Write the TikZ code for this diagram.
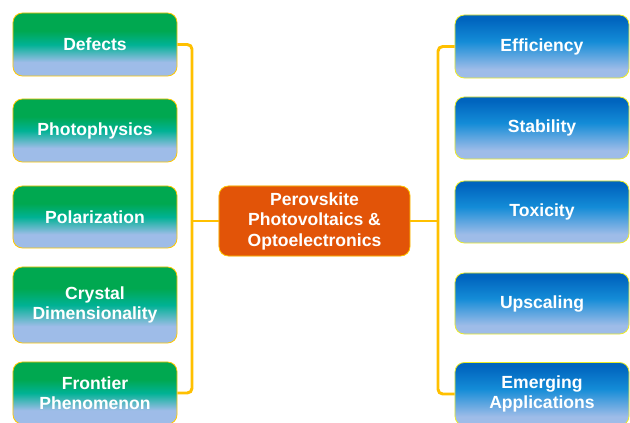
\documentclass[tikz,border=0pt]{standalone}
\usepackage{fontspec}
\setmainfont{Liberation Sans}
\definecolor{boxgreen}{RGB}{0,168,80}
\definecolor{boxteal}{RGB}{0,178,148}
\definecolor{boxblue}{RGB}{0,100,190}
\definecolor{boxmid}{RGB}{20,140,215}
\definecolor{boxlight}{RGB}{158,188,232}
\definecolor{boxedge}{RGB}{255,200,0}
\definecolor{rightedge}{RGB}{235,235,40}
\definecolor{hubfill}{RGB}{226,84,8}
\definecolor{linkgold}{RGB}{255,192,0}
\pgfdeclareverticalshading{leftshade}{100bp}{color(0bp)=(boxlight); color(36bp)=(boxlight); color(50bp)=(boxteal); color(61bp)=(boxgreen); color(100bp)=(boxgreen)}
\pgfdeclareverticalshading{rightshade}{100bp}{color(0bp)=(boxlight); color(32bp)=(boxlight); color(54bp)=(boxmid); color(72bp)=(boxblue); color(100bp)=(boxblue)}
\tikzset{
  topic/.style={rounded corners=8pt, line width=0.7pt, shade, text=white,
    font=\bfseries\fontsize{15}{17.5}\selectfont, align=center, inner sep=2pt},
  leftbox/.style={topic, draw=boxedge, shading=leftshade, minimum width=4.92cm},
  rightbox/.style={topic, draw=rightedge, shading=rightshade, minimum width=5.22cm},
  hub/.style={topic, draw=boxedge, fill=hubfill, shading=axis, top color=hubfill, bottom color=hubfill,
    minimum width=5.73cm, minimum height=2.1cm},
  link/.style={linkgold, line width=2.5pt, rounded corners=4pt}
}
\begin{document}
\begin{tikzpicture}[x=0.03cm, y=-0.03cm]
  \useasboundingbox (0,0) rectangle (630,423);
  % left side
  \foreach \name/\y/\h/\txt in {def/44.5/1.89/Defects, pho/130.5/1.89/Photophysics,
      pol/217/1.86/Polarization, cry/305/2.28/{Crystal\\Dimensionality},
      fro/393/1.86/{Frontier\\Phenomenon}}{
    \node[leftbox, minimum height=\h cm] (\name) at (95,\y) {\txt};
  }
  % right side
  \foreach \name/\y/\h/\txt in {eff/46.5/1.89/Efficiency, sta/128/1.86/Stability,
      tox/212/1.86/Toxicity, ups/303.5/1.83/Upscaling,
      eme/394/1.89/{Emerging\\Applications}}{
    \node[rightbox, minimum height=\h cm] (\name) at (542,\y) {\txt};
  }
  \node[hub] (ctr) at (314.5,221) {Perovskite\\Photovoltaics \&\\Optoelectronics};
  \coordinate (lbus) at (192,218);
  \coordinate (rbus) at (438,218);
  \draw[link] (def.east) -| (lbus) |- (fro.east);
  \draw[link] (ctr.west) -- (ctr.west -| lbus);
  \draw[link] (eff.west) -| (rbus) |- (eme.west);
  \draw[link] (ctr.east) -- (ctr.east -| rbus);
\end{tikzpicture}
\end{document}
